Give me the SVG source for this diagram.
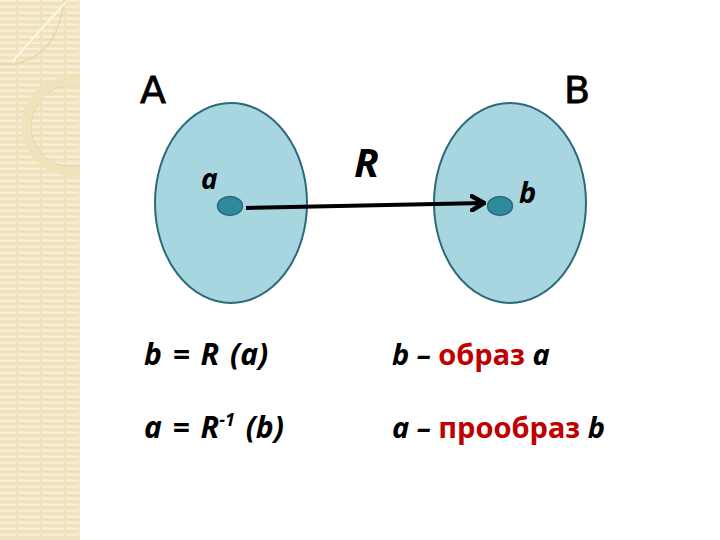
<svg xmlns="http://www.w3.org/2000/svg" width="720" height="540" viewBox="0 0 720 540">
<defs>
<pattern id="stripes" width="24" height="6" patternUnits="userSpaceOnUse">
<rect width="24" height="6" fill="#f2e6c2"/>
<rect y="0" width="24" height="1.5" fill="#f8f0da"/>
<rect y="3" width="24" height="1" fill="#ebdeb6"/>
<rect x="16" y="0" width="2" height="6" fill="#eee2bf"/>
</pattern>
<clipPath id="strip"><rect width="80" height="540"/></clipPath>
<marker id="arr" viewBox="0 0 16 18" refX="14" refY="9" markerWidth="16" markerHeight="18" markerUnits="userSpaceOnUse" orient="auto">
<path d="M2,2 L14,9 L2,16" fill="none" stroke="#000" stroke-width="4.5" stroke-linejoin="miter" stroke-linecap="round"/>
</marker>
<style>
.set{fill:#a8d6e0;stroke:#2c6a7a;stroke-width:2}
.dot{fill:#2e8a9c;stroke:#2c6a7a;stroke-width:1.5}
.lbl{font-family:"Noto Sans","Open Sans",sans-serif;font-weight:bold;font-style:italic;fill:#000}
.cap{font-family:"DejaVu Sans","Noto Sans",sans-serif;fill:#000;stroke:#000;stroke-width:0.8}
.red{fill:#c00000;font-style:normal}
</style>
</defs>
<g id="background">
<rect width="720" height="540" fill="#fff"/>
<rect width="80" height="540" fill="url(#stripes)"/>
<line x1="79.5" y1="0" x2="79.5" y2="540" stroke="#efe6cc" stroke-width="1"/>
<g clip-path="url(#strip)">
<path d="M0,64 L14,64 Q58,56 64,0" fill="none" stroke="#e4d6ae" stroke-width="1.5"/>
<path d="M12,62 Q40,30 66,2" fill="none" stroke="#fbf6e6" stroke-width="2"/>
<circle cx="72" cy="126" r="46" fill="none" stroke="#eee3bb" stroke-width="8"/>
<circle cx="72" cy="126" r="41" fill="none" stroke="#e3d6ac" stroke-width="1"/>
</g>
</g>
<g id="set-A">
<ellipse class="set" cx="231" cy="203" rx="76" ry="100"/>
<text class="cap" x="140" y="103" font-size="38">A</text>
</g>
<g id="set-B">
<ellipse class="set" cx="510" cy="203" rx="76" ry="100"/>
<text class="cap" x="564" y="103" font-size="38">B</text>
</g>
<g id="node-a">
<ellipse class="dot" cx="230" cy="206" rx="12.5" ry="9.5"/>
<text class="lbl" x="201" y="189" font-size="28">a</text>
</g>
<g id="node-b">
<ellipse class="dot" cx="500" cy="206" rx="12.5" ry="9.5"/>
<text class="lbl" x="519" y="203" font-size="29">b</text>
</g>
<g id="connectors">
<line x1="246" y1="208" x2="484" y2="203" stroke="#000" stroke-width="4" marker-end="url(#arr)"/>
<text class="lbl" x="354" y="177" font-size="40">R</text>
</g>
<g id="formulas">
<text class="lbl" x="144" y="365" font-size="30" word-spacing="3">b = R (a)</text>
<text class="lbl" x="392" y="365" font-size="29">b – <tspan class="red">образ</tspan> a</text>
<text class="lbl" x="144" y="438" font-size="30" word-spacing="3">a = R<tspan font-size="18" dy="-12">-1</tspan><tspan dy="12">  (b)</tspan></text>
<text class="lbl" x="392" y="438" font-size="29">a – <tspan class="red">прообраз</tspan> b</text>
</g>
</svg>
